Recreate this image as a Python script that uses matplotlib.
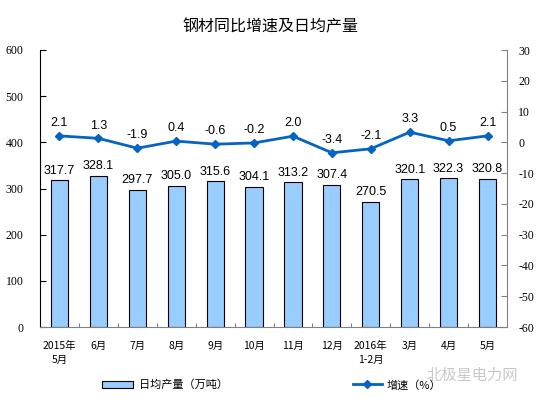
import matplotlib
matplotlib.use("Agg")
import matplotlib.pyplot as plt
from matplotlib.lines import Line2D
from matplotlib.patches import Patch

plt.rcParams['font.family'] = ['Liberation Sans', 'Noto Sans CJK SC', 'DejaVu Sans']

categories = ["2015年\n5月", "6月", "7月", "8月", "9月", "10月", "11月", "12月",
              "2016年\n1-2月", "3月", "4月", "5月"]
output = [317.7, 328.1, 297.7, 305.0, 315.6, 304.1, 313.2, 307.4, 270.5, 320.1, 322.3, 320.8]
growth = [2.1, 1.3, -1.9, 0.4, -0.6, -0.2, 2.0, -3.4, -2.1, 3.3, 0.5, 2.1]
left_ticks = [0, 100, 200, 300, 400, 500, 600]
right_ticks = [-60, -50, -40, -30, -20, -10, 0, 10, 20, 30]

fig = plt.figure(figsize=(5.51, 3.99), dpi=100)
ax = fig.add_axes([40/551, 1-327/399, 467/551, 277/399])
ax2 = ax.twinx()

x = list(range(len(categories)))
ax.bar(x, output, width=0.44, color='#99CCFF', edgecolor='black', linewidth=0.8, zorder=2)
for xi, v in zip(x, output):
    ax.text(xi, v + 8, f"{v:.1f}", ha='center', va='bottom', fontsize=9,
            family=['Liberation Sans'])

line_color = '#0563C1'
ax2.plot(x, growth, color=line_color, linewidth=2, marker='D', markersize=4.5, zorder=3)
for xi, v in zip(x, growth):
    ax2.text(xi, v + 2.2, f"{v:.1f}", ha='center', va='bottom', fontsize=9,
             family=['Liberation Sans'])

ax.set_xlim(-0.5, len(categories) - 0.5)
ax.set_ylim(0, 600)
ax2.set_ylim(-60, 30)
ax.set_yticks(left_ticks)
ax2.set_yticks(right_ticks)
ax.set_yticklabels([str(t) for t in left_ticks], family=['Liberation Serif'], fontsize=8.5)
ax2.set_yticklabels([str(t) for t in right_ticks], family=['Liberation Serif'], fontsize=8.5)

ax.set_xticks([i + 0.5 for i in x[:-1]], minor=False)
ax.set_xticklabels([])
ax.tick_params(axis='x', direction='in', length=3, color='#808080')
ax.set_xticks(x, minor=True)
ax.set_xticklabels(categories, minor=True, fontsize=7.5, family=['Noto Sans CJK SC'],
                   linespacing=1.5)
ax.tick_params(axis='x', which='minor', length=0, pad=10)

ax.tick_params(axis='y', direction='in', length=4, color='black', pad=12)
ax2.tick_params(axis='y', direction='in', length=4, color='#808080', pad=8)

for a in (ax, ax2):
    a.spines['top'].set_visible(False)
ax.spines['left'].set_color('black')
ax.spines['right'].set_visible(False)
ax.spines['bottom'].set_color('#808080')
ax2.spines['left'].set_visible(False)
ax2.spines['bottom'].set_visible(False)
ax2.spines['right'].set_color('#808080')

fig.text(270/551, 1-27/399, "钢材同比增速及日均产量", ha='center', va='center',
         fontsize=11.5, family=['Noto Sans CJK SC'])

legprops = {'family': ['Noto Sans CJK SC'], 'size': 8}
leg1 = fig.legend(handles=[Patch(facecolor='#99CCFF', edgecolor='black', linewidth=0.8,
                                 label="日均产量（万吨）")],
                  loc='center left', bbox_to_anchor=(102/551, 1-385/399), frameon=False,
                  prop=legprops, borderpad=0, borderaxespad=0, handlelength=2.8,
                  handletextpad=0.5)
leg2 = fig.legend(handles=[Line2D([0], [0], color=line_color, linewidth=2, marker='D',
                                  markersize=4.5, label="增速（%）")],
                  loc='center left', bbox_to_anchor=(353/551, 1-385/399), frameon=False,
                  prop=legprops, borderpad=0, borderaxespad=0, handlelength=2.6,
                  handletextpad=0.4)

fig.text(472/551, 1-375/399, "北极星电力网", ha='center', va='center', fontsize=11,
         color='#BBBBBB', family=['Noto Sans CJK SC'], alpha=0.8)

fig.savefig("out.png", dpi=100)
